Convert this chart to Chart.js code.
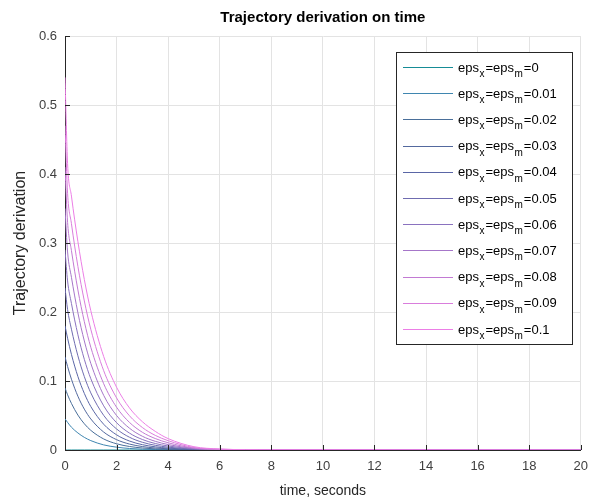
<!DOCTYPE html>
<html>
<head>
<meta charset="utf-8">
<script src="https://cdn.jsdelivr.net/npm/chart.js@4"></script>
<style>
  html, body { margin: 0; padding: 0; background: #fff; }
  canvas { display: block; }
</style>
</head>
<body>
<canvas id="chart" width="597" height="503"></canvas>
<script>
// time samples (seconds)
const times = [0, 0.1, 0.25, 0.5, 0.75, 1, 1.5, 2, 2.5, 3, 3.5, 4, 5, 6, 8, 20];

const epsLabels = ['0', '0.01', '0.02', '0.03', '0.04', '0.05', '0.06', '0.07', '0.08', '0.09', '0.1'];

// trajectory derivation, one array per eps value
const eps000 = [0, 0, 0, 0, 0, 0, 0, 0, 0, 0, 0, 0, 0, 0, 0, 0];
const eps001 = [0.045, 0.040, 0.033, 0.0247, 0.0183, 0.0136, 0.0074, 0.0041, 0.0022, 0.0012, 0.0007, 0.0004, 0.0001, 0, 0, 0];
const eps002 = [0.09, 0.080, 0.0675, 0.0506, 0.038, 0.0285, 0.016, 0.009, 0.0051, 0.0029, 0.0016, 0.0009, 0.0003, 0.0001, 0, 0];
const eps003 = [0.135, 0.121, 0.1026, 0.0779, 0.0592, 0.045, 0.026, 0.015, 0.0086, 0.005, 0.0029, 0.0017, 0.0006, 0.0002, 0, 0];
const eps004 = [0.18, 0.162, 0.1385, 0.1065, 0.082, 0.063, 0.0373, 0.022, 0.013, 0.0077, 0.0046, 0.0027, 0.0009, 0.0003, 0, 0];
const eps005 = [0.235, 0.2036, 0.175, 0.1365, 0.1063, 0.0828, 0.0502, 0.0305, 0.0185, 0.0112, 0.0068, 0.0041, 0.0013, 0.0004, 0.0001, 0];
const eps006 = [0.29, 0.245, 0.2124, 0.167, 0.1314, 0.1034, 0.064, 0.0396, 0.0245, 0.0152, 0.0094, 0.0058, 0.0018, 0.0005, 0.0001, 0];
const eps007 = [0.35, 0.287, 0.2503, 0.1988, 0.158, 0.1256, 0.0792, 0.050, 0.0316, 0.0199, 0.0126, 0.0079, 0.0022, 0.0006, 0.0001, 0];
const eps008 = [0.41, 0.330, 0.289, 0.232, 0.186, 0.149, 0.0961, 0.062, 0.040, 0.0257, 0.0166, 0.0105, 0.0028, 0.0008, 0.0001, 0];
const eps009 = [0.47, 0.372, 0.328, 0.266, 0.216, 0.175, 0.115, 0.0755, 0.0496, 0.0326, 0.0212, 0.0135, 0.0036, 0.0011, 0.0002, 0];
const eps010 = [0.54, 0.415, 0.368, 0.302, 0.247, 0.202, 0.1355, 0.091, 0.061, 0.041, 0.027, 0.0165, 0.0048, 0.0015, 0.0002, 0];

const seriesValues = [eps000, eps001, eps002, eps003, eps004, eps005, eps006, eps007, eps008, eps009, eps010];

const lineColors = ['#168c96', '#3f86b0', '#4a6f9a', '#53699e', '#5a66a6', '#6f6cb0',
                    '#8a72bf', '#a676c9', '#c27ad3', '#d97ddc', '#ec7ee6'];

const xTickLabels = ['0', '2', '4', '6', '8', '10', '12', '14', '16', '18', '20'];
const yTickLabels = ['0', '0.1', '0.2', '0.3', '0.4', '0.5', '0.6'];

const FONT = "'Liberation Sans', Arial, sans-serif";
Chart.defaults.font.family = FONT;

// title centred over the plot box, like MATLAB does
const boxTitle = {
    id: 'boxTitle',
    afterDraw(chart) {
        const { ctx, chartArea } = chart;
        ctx.save();
        ctx.font = 'bold 15px ' + FONT;
        ctx.fillStyle = '#000';
        ctx.textAlign = 'center';
        ctx.textBaseline = 'middle';
        ctx.fillText('Trajectory derivation on time', (chartArea.left + chartArea.right) / 2, 18);
        ctx.restore();
    }
};

// ticks pointing into the axes
const innerTicks = {
    id: 'innerTicks',
    afterDatasetsDraw(chart) {
        const { ctx, chartArea, scales } = chart;
        ctx.save();
        ctx.strokeStyle = '#262626';
        ctx.lineWidth = 1;
        ctx.beginPath();
        scales.x.ticks.forEach(t => {
            const px = Math.round(scales.x.getPixelForValue(t.value)) + 0.5;
            ctx.moveTo(px, chartArea.bottom);
            ctx.lineTo(px, chartArea.bottom - 5);
        });
        scales.y.ticks.forEach(t => {
            const py = Math.round(scales.y.getPixelForValue(t.value)) + 0.5;
            ctx.moveTo(chartArea.left, py);
            ctx.lineTo(chartArea.left + 5, py);
        });
        ctx.stroke();
        ctx.restore();
    }
};

// legend box with subscripted labels
const subLegend = {
    id: 'subLegend',
    afterDraw(chart) {
        const ctx = chart.ctx;
        const box = { left: 396.5, top: 52.5, right: 572.5, bottom: 344.5 };
        ctx.save();
        ctx.fillStyle = '#fff';
        ctx.fillRect(box.left, box.top, box.right - box.left, box.bottom - box.top);
        ctx.strokeStyle = '#262626';
        ctx.lineWidth = 1;
        ctx.strokeRect(box.left, box.top, box.right - box.left, box.bottom - box.top);

        epsLabels.forEach((lab, i) => {
            const y = 67 + i * 26.2;
            ctx.strokeStyle = lineColors[i];
            ctx.lineWidth = 1;
            ctx.beginPath();
            ctx.moveTo(403, Math.round(y) + 0.5);
            ctx.lineTo(453, Math.round(y) + 0.5);
            ctx.stroke();

            ctx.fillStyle = '#000';
            ctx.textBaseline = 'alphabetic';
            ctx.textAlign = 'left';
            let x = 458;
            ctx.font = '13px ' + FONT;
            ctx.fillText('eps', x, y + 4.5);
            x += ctx.measureText('eps').width + 0.5;
            ctx.font = '10px ' + FONT;
            ctx.fillText('x', x, y + 10);
            x += ctx.measureText('x').width + 1;
            ctx.font = '13px ' + FONT;
            ctx.fillText('=eps', x, y + 4.5);
            x += ctx.measureText('=eps').width + 0.5;
            ctx.font = '10px ' + FONT;
            ctx.fillText('m', x, y + 10);
            x += ctx.measureText('m').width + 1;
            ctx.font = '13px ' + FONT;
            ctx.fillText('=' + lab, x, y + 4.5);
        });
        ctx.restore();
    }
};

const datasets = seriesValues.map((vals, i) => ({
    label: 'eps_x=eps_m=' + epsLabels[i],
    data: times.map((t, j) => ({ x: t, y: vals[j] })),
    borderColor: lineColors[i],
    borderWidth: 1,
    pointRadius: 0,
    fill: false,
    cubicInterpolationMode: 'monotone',
    order: seriesValues.length - 1 - i
}));

new Chart(document.getElementById('chart').getContext('2d'), {
    type: 'line',
    data: { datasets: datasets },
    options: {
        responsive: false,
        animation: false,
        devicePixelRatio: 1,
        layout: { padding: { left: 0, right: 10, top: 36, bottom: 0 } },
        plugins: {
            legend: { display: false },
            tooltip: { enabled: false },
            title: { display: false }
        },
        scales: {
            x: {
                type: 'linear',
                min: 0,
                max: 20,
                afterFit: scale => { scale.height = 53; },
                ticks: {
                    stepSize: 2,
                    padding: 9,
                    color: '#404040',
                    font: { size: 13 },
                    maxRotation: 0,
                    callback: (v, i) => xTickLabels[i]
                },
                grid: { color: '#e3e3e3', drawTicks: false },
                border: { color: '#262626', width: 1 },
                title: {
                    display: true,
                    text: 'time, seconds',
                    color: '#262626',
                    font: { size: 14, lineHeight: 1.2 },
                    padding: { top: 4, bottom: 3 }
                }
            },
            y: {
                min: 0,
                max: 0.6,
                afterFit: scale => { scale.width = 65; },
                ticks: {
                    stepSize: 0.1,
                    padding: 8,
                    color: '#404040',
                    font: { size: 13 },
                    callback: v => yTickLabels[Math.round(v * 10)]
                },
                grid: { color: '#e3e3e3', drawTicks: false },
                border: { color: '#262626', width: 1 },
                title: {
                    display: true,
                    text: 'Trajectory derivation',
                    color: '#262626',
                    font: { size: 16, lineHeight: 1.2 },
                    padding: { top: 11, bottom: 4 }
                }
            }
        }
    },
    plugins: [innerTicks, subLegend, boxTitle]
});
</script>
</body>
</html>
